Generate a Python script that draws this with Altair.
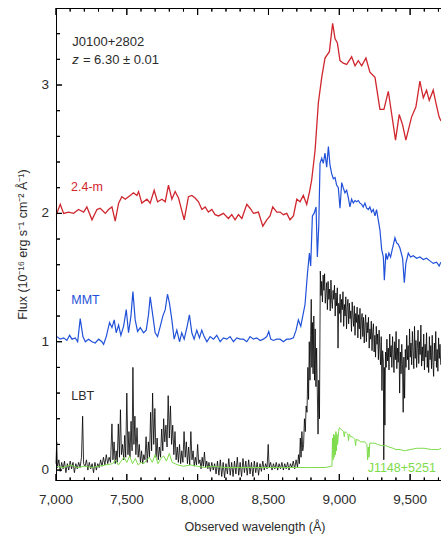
import altair as alt
import pandas as pd

# ---------------- data ----------------
red_pts = [
    (7002, 1.99), (7030, 2.07), (7054, 2.00), (7089, 2.01), (7124, 2.00), (7159, 2.03), (7195, 2.01), (7218, 2.05),
    (7254, 1.95), (7289, 2.03), (7312, 2.04), (7348, 2.00), (7371, 2.03), (7395, 2.05), (7418, 1.94), (7442, 2.08),
    (7465, 2.13), (7489, 2.11), (7524, 2.14), (7547, 2.16), (7571, 2.14), (7583, 2.17), (7606, 2.08), (7642, 2.11),
    (7665, 2.08), (7693, 2.18), (7717, 2.09), (7748, 2.11), (7771, 2.09), (7794, 2.22), (7818, 2.11), (7841, 2.17),
    (7865, 2.12), (7881, 2.05), (7905, 1.95), (7935, 2.13), (7959, 2.14), (7982, 2.12), (8006, 2.09), (8030, 2.03),
    (8053, 2.05), (8076, 2.01), (8100, 2.03), (8123, 1.99), (8147, 1.98), (8182, 2.00), (8217, 1.96), (8241, 1.99),
    (8264, 1.95), (8288, 1.99), (8312, 1.96), (8347, 2.07), (8370, 2.04), (8394, 2.00), (8429, 2.01), (8460, 1.90),
    (8488, 1.95), (8511, 1.98), (8530, 2.05), (8559, 2.01), (8582, 2.01), (8605, 1.99), (8629, 2.00), (8652, 1.95),
    (8676, 1.98), (8700, 2.11), (8723, 2.09), (8746, 2.14), (8770, 2.07), (8790, 2.17), (8805, 2.26), (8829, 2.49),
    (8852, 2.86), (8876, 3.06), (8899, 3.21), (8930, 3.26), (8953, 3.48), (8970, 3.36), (8986, 3.33), (9005, 3.19),
    (9028, 3.17), (9052, 3.16), (9087, 3.22), (9111, 3.15), (9134, 3.19), (9158, 3.15), (9188, 3.21), (9216, 3.10),
    (9252, 3.06), (9287, 2.81), (9315, 2.81), (9346, 2.95), (9369, 2.78), (9397, 2.57), (9423, 2.77), (9447, 2.69),
    (9470, 2.57), (9510, 2.75), (9541, 2.83), (9569, 3.03), (9593, 2.90), (9616, 2.96), (9635, 2.88), (9663, 2.96),
    (9682, 2.86), (9705, 2.75), (9718, 2.72),
]

blue_pts = [
    (7007, 1.04), (7030, 1.02), (7054, 1.03), (7077, 1.01), (7096, 1.05), (7113, 1.02), (7136, 1.03), (7153, 1.00),
    (7171, 1.18), (7190, 1.04), (7207, 1.00), (7230, 1.02), (7254, 1.00), (7277, 0.99), (7301, 1.02), (7324, 1.00),
    (7336, 0.98), (7355, 1.04), (7378, 1.15), (7395, 1.11), (7411, 1.17), (7425, 1.07), (7442, 1.13), (7458, 1.05),
    (7477, 1.12), (7496, 1.25), (7512, 1.07), (7529, 1.20), (7543, 1.39), (7559, 1.17), (7576, 1.08), (7595, 1.11),
    (7618, 1.07), (7637, 1.09), (7653, 1.21), (7665, 1.35), (7684, 1.20), (7700, 1.07), (7717, 1.04), (7736, 1.12),
    (7754, 1.20), (7771, 1.25), (7787, 1.37), (7801, 1.30), (7818, 1.17), (7834, 1.02), (7853, 1.09), (7872, 1.00),
    (7888, 1.07), (7905, 1.02), (7924, 1.11), (7942, 1.21), (7959, 1.07), (7975, 1.02), (7994, 1.09), (8013, 1.03),
    (8029, 1.09), (8046, 1.04), (8065, 1.00), (8088, 1.04), (8112, 1.02), (8135, 1.05), (8159, 1.00), (8182, 1.03),
    (8206, 1.02), (8229, 1.04), (8253, 1.00), (8276, 1.03), (8300, 1.02), (8323, 1.02), (8347, 1.00), (8370, 1.04),
    (8394, 1.02), (8417, 1.03), (8441, 1.01), (8464, 1.02), (8488, 1.04), (8502, 1.08), (8516, 1.02), (8535, 1.01),
    (8558, 1.02), (8582, 1.02), (8605, 1.00), (8629, 1.02), (8652, 1.02), (8676, 1.03), (8695, 1.09), (8711, 1.17),
    (8728, 1.12), (8742, 1.20), (8758, 1.29), (8775, 1.53), (8789, 1.69), (8798, 1.59), (8810, 1.98), (8822, 2.00),
    (8836, 2.05), (8845, 1.66), (8855, 1.90), (8864, 2.39), (8876, 2.43), (8887, 2.39), (8899, 2.47), (8911, 2.36),
    (8923, 2.52), (8934, 2.38), (8946, 2.31), (8958, 2.27), (8970, 2.28), (8981, 2.22), (8993, 2.20), (9005, 2.04),
    (9017, 2.24), (9028, 2.20), (9040, 2.16), (9052, 2.18), (9064, 2.12), (9075, 2.05), (9087, 2.11), (9099, 2.08),
    (9111, 2.10), (9122, 2.09), (9134, 2.10), (9146, 2.08), (9158, 2.07), (9169, 2.05), (9181, 2.08), (9193, 2.04),
    (9205, 2.03), (9216, 2.05), (9228, 2.01), (9240, 2.03), (9252, 1.98), (9263, 2.03), (9275, 1.95), (9287, 1.87),
    (9299, 1.72), (9311, 1.66), (9318, 1.48), (9329, 1.69), (9339, 1.64), (9350, 1.69), (9362, 1.66), (9374, 1.72),
    (9393, 1.81), (9405, 1.77), (9416, 1.76), (9428, 1.73), (9447, 1.65), (9459, 1.46), (9470, 1.61), (9487, 1.69),
    (9503, 1.66), (9522, 1.67), (9546, 1.65), (9569, 1.66), (9593, 1.64), (9616, 1.65), (9640, 1.63), (9663, 1.61),
    (9687, 1.62), (9705, 1.59), (9717, 1.62),
]

black_pts = [
    (7000, 0.05), (7005, 0.22), (7010, 0.02), (7020, 0.08), (7030, -0.01), (7040, 0.06), (7050, 0.01), (7060, 0.07),
    (7070, -0.02), (7080, 0.05), (7090, 0.00), (7100, 0.07), (7110, 0.01), (7120, 0.06), (7130, -0.02), (7140, 0.05),
    (7150, 0.01), (7160, 0.06), (7170, 0.02), (7180, 0.10), (7188, 0.42), (7195, 0.05), (7205, 0.03), (7215, 0.08),
    (7225, 0.00), (7235, 0.06), (7245, 0.01), (7255, 0.05), (7265, -0.02), (7275, 0.06), (7285, 0.00), (7295, 0.05),
    (7305, 0.02), (7315, 0.08), (7325, 0.03), (7335, 0.10), (7345, 0.04), (7355, 0.12), (7365, 0.05), (7375, 0.10),
    (7385, 0.06), (7395, 0.36), (7402, 0.08), (7410, 0.22), (7418, 0.05), (7425, 0.15), (7432, 0.06), (7440, 0.36),
    (7448, 0.10), (7455, 0.47), (7462, 0.12), (7470, 0.20), (7478, 0.08), (7485, 0.27), (7492, 0.10), (7500, 0.60),
    (7508, 0.12), (7515, 0.30), (7522, 0.10), (7530, 0.38), (7537, 0.15), (7543, 0.80), (7550, 0.20), (7557, 0.42),
    (7564, 0.12), (7572, 0.33), (7580, 0.10), (7588, 0.20), (7596, 0.06), (7604, 0.15), (7612, 0.05), (7620, 0.12),
    (7628, 0.08), (7636, 0.26), (7644, 0.06), (7652, 0.22), (7660, 0.10), (7668, 0.45), (7675, 0.15), (7682, 0.60),
    (7690, 0.20), (7698, 0.48), (7706, 0.10), (7714, 0.25), (7722, 0.08), (7730, 0.18), (7738, 0.10), (7746, 0.32),
    (7754, 0.15), (7760, 0.40), (7768, 0.22), (7776, 0.35), (7784, 0.18), (7792, 0.58), (7800, 0.25), (7808, 0.50),
    (7816, 0.20), (7824, 0.35), (7832, 0.12), (7840, 0.30), (7848, 0.08), (7856, 0.18), (7864, 0.06), (7872, 0.20),
    (7880, 0.05), (7888, 0.15), (7896, 0.06), (7904, 0.30), (7912, 0.10), (7920, 0.22), (7928, 0.05), (7936, 0.18),
    (7944, 0.04), (7952, 0.30), (7960, 0.08), (7968, 0.15), (7976, 0.03), (7984, 0.10), (7992, 0.04), (8000, 0.20),
    (8008, 0.05), (8016, 0.08), (8024, 0.01), (8032, 0.10), (8040, 0.03), (8048, 0.14), (8056, 0.02), (8064, 0.07),
    (8072, 0.01), (8080, 0.06), (8090, -0.01), (8100, 0.06), (8110, 0.00), (8120, 0.05), (8130, -0.03), (8140, 0.07),
    (8150, -0.04), (8160, 0.08), (8170, -0.05), (8180, 0.06), (8190, -0.06), (8200, 0.05), (8210, -0.03), (8220, 0.09),
    (8230, -0.04), (8240, 0.06), (8250, -0.05), (8260, 0.07), (8270, -0.03), (8280, 0.10), (8290, -0.04), (8300, 0.06),
    (8310, -0.05), (8320, 0.09), (8330, -0.02), (8340, 0.07), (8350, -0.04), (8360, 0.08), (8370, -0.03), (8380, 0.06),
    (8390, -0.05), (8400, 0.07), (8410, -0.02), (8420, 0.06), (8430, -0.04), (8440, 0.05), (8450, -0.01), (8460, 0.07),
    (8470, 0.00), (8480, 0.05), (8490, 0.01), (8498, 0.20), (8505, 0.02), (8515, 0.06), (8525, 0.00), (8535, 0.05),
    (8545, 0.01), (8555, 0.06), (8565, 0.00), (8575, 0.05), (8585, 0.01), (8595, 0.06), (8605, 0.00), (8615, 0.05),
    (8625, 0.01), (8635, 0.06), (8645, 0.00), (8655, 0.05), (8665, 0.02), (8675, 0.07), (8685, 0.01), (8695, 0.08),
    (8705, 0.02), (8712, 0.12), (8718, 0.05), (8725, 0.25), (8730, 0.10), (8736, 0.30), (8742, 0.15), (8748, 0.20),
    (8754, 0.40), (8760, 0.30), (8766, 0.50), (8772, 0.45), (8778, 0.80), (8783, 0.55), (8788, 1.00), (8793, 0.70),
    (8798, 1.05), (8802, 1.33), (8806, 0.80), (8810, 1.15), (8815, 0.75), (8820, 1.20), (8825, 0.70), (8830, 1.10),
    (8835, 0.65), (8840, 0.95), (8845, 0.60), (8850, 0.28), (8855, 0.70), (8860, 0.40),
    (8866, 1.55), (8871, 1.36), (8876, 1.47), (8881, 1.31), (8886, 1.52), (8891, 1.40), (8896, 1.53), (8901, 1.30),
    (8906, 1.38), (8911, 1.46), (8916, 1.25), (8921, 1.47), (8926, 1.33), (8931, 1.41), (8936, 1.24), (8941, 1.48),
    (8946, 1.32), (8951, 1.26), (8956, 1.40), (8961, 1.33), (8966, 1.44), (8971, 1.20), (8976, 1.38), (8981, 1.28),
    (8986, 1.42), (8991, 0.95), (8996, 1.30), (9001, 1.22), (9006, 1.37), (9011, 1.15), (9016, 1.33), (9021, 1.25),
    (9026, 1.39), (9031, 1.12), (9036, 1.29), (9041, 1.20), (9046, 1.35), (9051, 1.10), (9056, 1.27), (9061, 1.33),
    (9066, 1.14), (9071, 1.30), (9076, 1.18), (9081, 1.24), (9086, 1.08), (9091, 1.31), (9096, 1.20), (9101, 1.12),
    (9106, 1.28), (9111, 1.05), (9116, 1.22), (9121, 1.15), (9126, 1.27), (9131, 1.03), (9136, 1.21), (9141, 1.10),
    (9146, 1.26), (9151, 1.02), (9156, 1.17), (9161, 1.22), (9166, 1.04), (9171, 1.19), (9176, 0.99), (9181, 1.13),
    (9186, 1.21), (9191, 1.00), (9196, 1.15), (9201, 1.07), (9206, 1.19), (9211, 0.95), (9216, 1.10), (9221, 1.02),
    (9226, 1.16), (9231, 0.93), (9236, 1.08), (9241, 1.14), (9246, 0.92), (9251, 1.05), (9256, 0.88), (9261, 1.12),
    (9266, 0.98), (9271, 1.06), (9276, 0.86), (9281, 1.09), (9286, 0.95), (9291, 0.82), (9296, 1.04), (9301, 0.62),
    (9306, 0.93), (9311, 0.85), (9314, 0.08), (9318, 0.80), (9322, 0.35), (9326, 0.92), (9331, 0.80), (9336, 1.02),
    (9341, 0.85), (9346, 0.95), (9351, 0.78), (9356, 1.06), (9361, 0.88), (9366, 0.97), (9371, 0.80), (9376, 1.04),
    (9381, 0.90), (9386, 0.76), (9391, 1.00), (9396, 0.86), (9401, 1.08), (9406, 0.79), (9411, 0.95), (9416, 0.84),
    (9421, 1.02), (9426, 0.60), (9431, 0.92), (9436, 0.75), (9441, 0.98), (9446, 0.82), (9451, 0.45), (9456, 0.88),
    (9461, 0.56), (9466, 0.94), (9471, 0.80), (9476, 1.05), (9481, 0.86), (9486, 0.97), (9491, 0.78), (9496, 1.10),
    (9501, 0.88), (9506, 0.99), (9511, 0.82), (9516, 1.08), (9521, 0.93), (9526, 0.79), (9531, 1.12), (9536, 0.87),
    (9541, 1.01), (9546, 0.80), (9551, 0.95), (9556, 1.09), (9561, 0.83), (9566, 1.00), (9571, 0.90), (9576, 1.13),
    (9581, 0.81), (9586, 0.96), (9591, 0.85), (9596, 1.06), (9601, 0.78), (9606, 0.98), (9611, 0.88), (9616, 1.07),
    (9621, 0.80), (9626, 0.93), (9631, 0.76), (9636, 1.04), (9641, 0.86), (9646, 0.97), (9651, 0.79), (9656, 1.05),
    (9661, 0.84), (9666, 0.73), (9671, 0.99), (9676, 0.85), (9681, 1.08), (9686, 0.80), (9691, 0.94), (9696, 0.77),
    (9701, 1.03), (9706, 0.87), (9711, 0.98), (9716, 0.82),
]

green_pts = [
    (7000, 0.03), (7050, 0.02), (7100, 0.04), (7150, 0.02), (7200, 0.03), (7250, 0.02), (7300, 0.03), (7350, 0.04),
    (7400, 0.05), (7420, 0.08), (7440, 0.04), (7460, 0.07), (7480, 0.10), (7500, 0.06), (7520, 0.11), (7540, 0.05),
    (7560, 0.09), (7580, 0.04), (7600, 0.06), (7620, 0.05), (7640, 0.08), (7660, 0.10), (7680, 0.06), (7700, 0.12),
    (7720, 0.05), (7740, 0.09), (7760, 0.11), (7780, 0.07), (7800, 0.13), (7820, 0.06), (7840, 0.05), (7860, 0.04),
    (7900, 0.03), (7950, 0.04), (8000, 0.03), (8050, 0.02), (8100, 0.03), (8200, 0.02), (8300, 0.02), (8400, 0.02),
    (8500, 0.02), (8600, 0.02), (8700, 0.02), (8800, 0.02), (8900, 0.02), (8944, 0.03), (8948, 0.03), (8952, 0.25),
    (8956, 0.08), (8960, 0.28), (8964, 0.10), (8968, 0.27), (8972, 0.12), (8976, 0.30), (8980, 0.15), (8984, 0.28),
    (8988, 0.20), (8995, 0.30), (9000, 0.33), (9010, 0.32), (9020, 0.31), (9030, 0.30), (9035, 0.26), (9040, 0.30),
    (9050, 0.29), (9060, 0.28), (9065, 0.23), (9070, 0.28), (9080, 0.26), (9090, 0.26), (9100, 0.25), (9110, 0.24),
    (9115, 0.19), (9120, 0.24), (9140, 0.23), (9150, 0.22), (9160, 0.22), (9180, 0.22), (9195, 0.20), (9200, 0.08),
    (9205, 0.18), (9210, 0.10), (9215, 0.21), (9230, 0.21), (9250, 0.21), (9270, 0.20), (9300, 0.19), (9330, 0.19),
    (9350, 0.18), (9380, 0.17), (9400, 0.16), (9430, 0.16), (9460, 0.15), (9500, 0.16), (9550, 0.17), (9600, 0.17),
    (9650, 0.16), (9700, 0.16), (9718, 0.17),
]

series_style = [  # (name, points, colour, stroke width)
    ("2.4-m", red_pts, "#d0262e", 1.3),
    ("MMT", blue_pts, "#2151d9", 1.2),
    ("LBT", black_pts, "#000000", 0.8),
    ("J1148+5251", green_pts, "#7ddc4a", 1.0),
]

# annotations: (text, wavelength, flux, colour, font size)
notes = [
    ("J0100+2802", 7115, 3.337, "#2b2b2b", 13),
    ("= 6.30 \u00b1 0.01", 7190, 3.198, "#2b2b2b", 13),
    ("2.4-m", 7106, 2.206, "#d0262e", 12.5),
    ("MMT", 7108, 1.327, "#2151d9", 12.5),
    ("LBT", 7108, 0.574, "#2b2b2b", 12.5),
    ("J1148+5251", 9200, 0.017, "#7ddc4a", 12.5),
]
italic_note = ("z", 7115, 3.198)

x_label_values = [7000, 7500, 8000, 8500, 9000, 9500]
x_minor_values = [v for v in range(7000, 9800, 100) if v % 500 != 0]
y_label_values = [0, 1, 2, 3]
y_minor_values = [0.2, 0.4, 0.6, 0.8, 1.2, 1.4, 1.6, 1.8, 2.2, 2.4, 2.6, 2.8, 3.2, 3.4]
x_title = "Observed wavelength (\u00c5)"
y_title = "Flux (10\u207b\u00b9\u2076 erg s\u207b\u00b9 cm\u207b\u00b2 \u00c5\u207b\u00b9)"

X_DOM = [7000, 9718]
Y_DOM = [-0.085, 3.6]
W, H = 385, 473
FONT = "Liberation Sans"
TXT = "#2b2b2b"

# pixel sizes turned into data units
PX_X = (X_DOM[1] - X_DOM[0]) / W
PX_Y = (Y_DOM[1] - Y_DOM[0]) / H
X_MAJOR, X_MINOR = 7 * PX_Y, 3.5 * PX_Y
Y_MAJOR, Y_MINOR = 6 * PX_X, 4 * PX_X

# ---------- frame and inward ticks as thin boxes (x0, x1, y0, y1 in data units) ----------
boxes = [
    (X_DOM[0], X_DOM[0] + PX_X, Y_DOM[0], Y_DOM[1]),            # left border
    (X_DOM[0], X_DOM[1], Y_DOM[1] - PX_Y, Y_DOM[1]),            # top border
    (X_DOM[0], X_DOM[1], Y_DOM[0], Y_DOM[0] + PX_Y),            # bottom border
]
for v in x_label_values + x_minor_values:
    L = X_MAJOR if v in x_label_values else X_MINOR
    boxes.append((v - 0.5 * PX_X, v + 0.5 * PX_X, Y_DOM[0], Y_DOM[0] + L))
    boxes.append((v - 0.5 * PX_X, v + 0.5 * PX_X, Y_DOM[1] - L, Y_DOM[1]))
for v in y_label_values + y_minor_values:
    L = Y_MAJOR if v in y_label_values else Y_MINOR
    boxes.append((X_DOM[0], X_DOM[0] + L, v - 0.5 * PX_Y, v + 0.5 * PX_Y))
box_df = pd.DataFrame(boxes, columns=["x0", "x1", "y0", "y1"])

# the same frame/ticks as two-point line segments
seg_rows = []
for i, (x0, x1, y0, y1) in enumerate(boxes):
    if (x1 - x0) > (y1 - y0) / PX_Y * PX_X:      # horizontal piece
        ym = (y0 + y1) / 2
        a, b = (x0, ym), (x1, ym)
    else:
        xm = (x0 + x1) / 2
        a, b = (xm, y0), (xm, y1)
    seg_rows.append({"seg": i, "ord": 0, "wl": a[0], "flux": a[1]})
    seg_rows.append({"seg": i, "ord": 1, "wl": b[0], "flux": b[1]})
seg_df = pd.DataFrame(seg_rows)

# ---------- spectra ----------
rows = []
for name, pts, col, w in series_style:
    for i, (wl, fl) in enumerate(pts):
        rows.append({"grp": name, "ord": i, "wl": wl, "flux": fl, "c": col, "w": w})
spec_df = pd.DataFrame(rows)

# ---------- texts (positions in data units, no pixel offsets) ----------
notes_df = pd.DataFrame(notes, columns=["t", "wl", "flux", "c", "s"])
zed_df = pd.DataFrame([italic_note], columns=["t", "wl", "flux"])
xlab_df = pd.DataFrame({"wl": [float(v) for v in x_label_values],
                        "flux": [Y_DOM[0] - 18.5 * PX_Y] * len(x_label_values),
                        "t": [f"{v:,}" for v in x_label_values]})
ylab_df = pd.DataFrame({"wl": [X_DOM[0] - 7 * PX_X] * len(y_label_values),
                        "flux": [float(v) for v in y_label_values],
                        "t": [str(v) for v in y_label_values]})
xtitle_df = pd.DataFrame({"t": [x_title], "wl": [X_DOM[0] + 199 * PX_X], "flux": [Y_DOM[0] - 46 * PX_Y]})
ytitle_df = pd.DataFrame({"t": [y_title], "wl": [X_DOM[0] - 33 * PX_X], "flux": [(Y_DOM[0] + Y_DOM[1]) / 2]})

xs = alt.Scale(domain=X_DOM, nice=False, zero=False)
ys = alt.Scale(domain=Y_DOM, nice=False, zero=False)


def enc(chart, **extra):
    return chart.encode(x=alt.X("wl:Q", scale=xs, axis=None), y=alt.Y("flux:Q", scale=ys, axis=None), **extra)


spectra = enc(alt.Chart(spec_df).mark_line(), detail="grp:N", order="ord:Q",
              color=alt.Color("c:N", scale=None), strokeWidth=alt.StrokeWidth("w:Q", scale=None))

frame_rect = alt.Chart(box_df).mark_rect(color="black", opacity=1).encode(
    x=alt.X("x0:Q", scale=xs, axis=None), x2="x1:Q",
    y=alt.Y("y0:Q", scale=ys, axis=None), y2="y1:Q")
frame_line = enc(alt.Chart(seg_df).mark_line(color="black", strokeWidth=1), detail="seg:N", order="ord:Q")

note_txt = enc(alt.Chart(notes_df).mark_text(align="left", baseline="middle", font=FONT),
               text="t:N", color=alt.Color("c:N", scale=None), size=alt.Size("s:Q", scale=None))
zed_txt = enc(alt.Chart(zed_df).mark_text(align="left", baseline="middle", font=FONT, fontSize=13,
                                          fontStyle="italic", color=TXT), text="t:N")
xlabels = enc(alt.Chart(xlab_df).mark_text(align="center", baseline="middle", font=FONT,
                                           fontSize=13.5, color=TXT), text="t:N")
ylabels = enc(alt.Chart(ylab_df).mark_text(align="right", baseline="middle", font=FONT,
                                           fontSize=13.5, color=TXT), text="t:N")
xtitle = enc(alt.Chart(xtitle_df).mark_text(align="center", baseline="middle", font=FONT,
                                            fontSize=12.5, color=TXT), text="t:N")
ytitle = enc(alt.Chart(ytitle_df).mark_text(align="center", baseline="middle", angle=270, font=FONT,
                                            fontSize=12.5, color=TXT), text="t:N")

chart = alt.layer(spectra, frame_rect, frame_line, note_txt, zed_txt, xlabels, ylabels, xtitle, ytitle).properties(
    width=W, height=H,
    padding={"left": 56, "top": 8, "right": 0, "bottom": 53},
    autosize=alt.AutoSizeParams(type="none"),
    background="white",
).configure_view(strokeWidth=0)

chart.save("out.html", embed_options={"renderer": "svg", "actions": False})
